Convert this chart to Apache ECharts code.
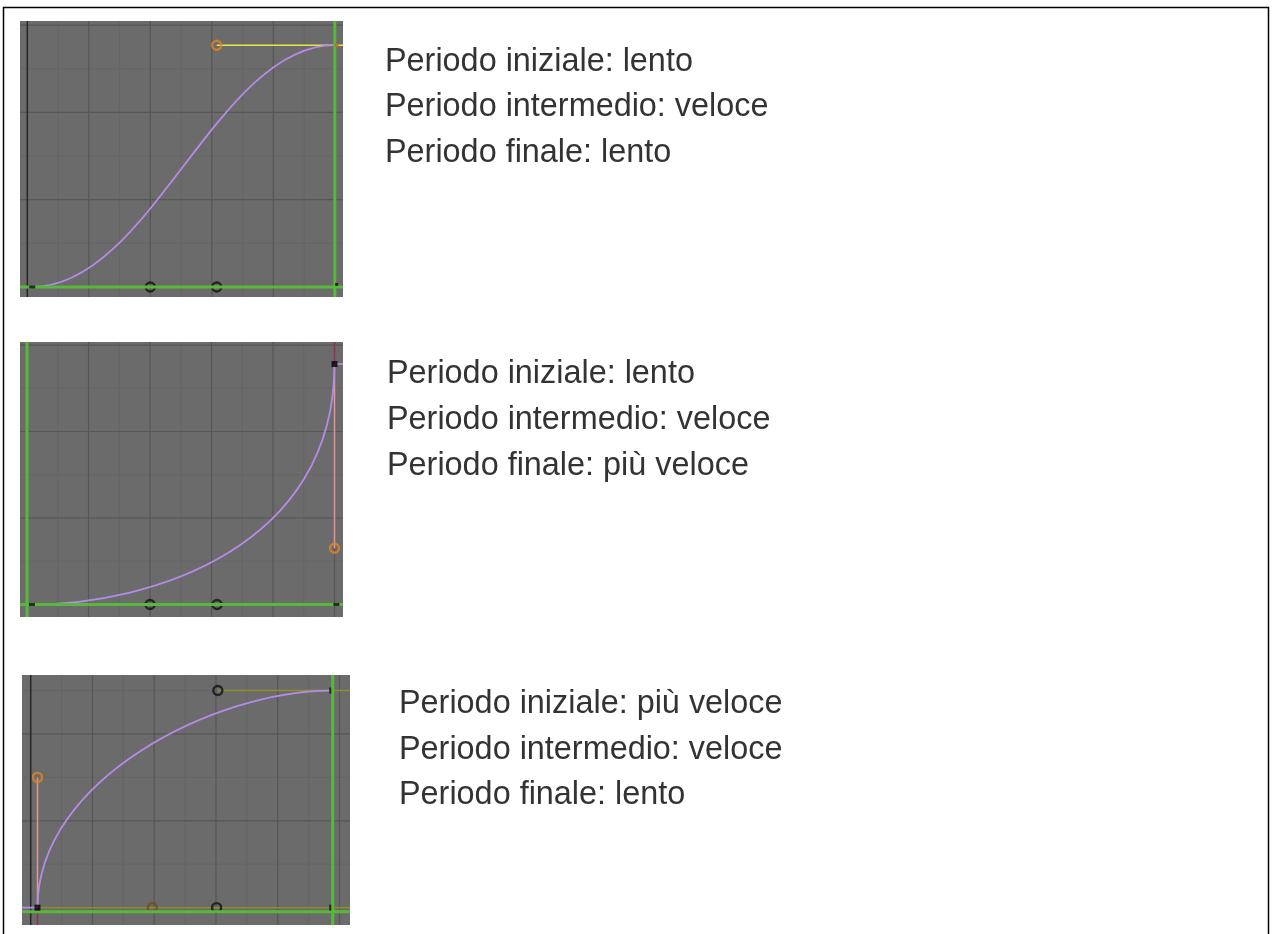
<!DOCTYPE html>
<html><head><meta charset="utf-8">
<script src="https://cdn.jsdelivr.net/npm/echarts/dist/echarts.min.js"></script>
<style>html,body{margin:0;padding:0;background:#fff}#c{width:1276px;height:934px}</style>
</head><body><div id="c"></div>
<script>
// ---------- DATA (frames on x, value on y) ----------
// Panel 1: ease in / ease out
const p1Keys = [[0.8, 0], [50, 2.77]];
const p1CurveHandles = [[20, 0], [30.8, 2.77]];
const p1BottomRings = [[20, 0], [30.8, 0]];
const p1SelectedHandle = [[30.8, 2.77]];
const p1YellowHandleLine = [[30.8, 2.77], [51.33, 2.77]];
const p1Dashes = [[0.8, 0]];
const p1Dots = [[50.3, 0.03]];
const p1OrangeKey = [[50.3, 2.77]];
const p1CurrentFrame = [50];
const p1Cursor = [0];
const p1FrameZero = [0];

// Panel 2: ease in
const p2Keys = [[0.8, 0], [50, 2.78]];
const p2CurveHandles = [[20, 0], [50, 0.65]];
const p2BottomRings = [[20, 0], [30.9, 0]];
const p2SelectedHandle = [[50, 0.65]];
const p2PinkHandleLine = [[50, 2.78], [50, 0.65]];
const p2DarkHandleLine = [[50, 2.78], [50, 3.035]];
const p2CurveExtension = [[50, 2.78], [51.38, 2.78]];
const p2KeySquares = [[50, 2.78]];
const p2Dashes = [[0.8, 0], [50.3, 0]];
const p2CurrentFrame = [0];
const p2Cursor = [0];

// Panel 3: ease out
const p3Keys = [[1.1, 0], [48.5, 2.5]];
const p3CurveHandles = [[1.1, 1.5], [30.3, 2.5]];
const p3SelectedHandle = [[1.1, 1.5]];
const p3PinkHandleLine = [[1.1, 0], [1.1, 1.5]];
const p3DarkHandleLine = [[1.1, 0], [1.1, -0.2]];
const p3OliveTop = [[30.3, 2.5], [51.7, 2.5]];
const p3OliveBottom = [[1.1, 0], [51.7, 0]];
const p3CurveExtension = [[-1.41, 0], [1.1, 0]];
const p3BlackRings = [[30.3, 2.5], [30.1, 0]];
const p3BrownRings = [[19.7, 0]];
const p3KeySquares = [[1.1, 0]];
const p3Ticks = [[48.5, 2.5], [48.5, 0]];
const p3CurrentFrame = [48.9];
const p3Cursor = [-0.046];
const p3FrameZero = [0];

// grid tick values (all panels)
const majorFrames = [10, 20, 30, 40, 50];
const minorFrames = [5, 15, 25, 35, 45];
const majorValues = [0, 1, 2, 3];
const minorValues = [0.5, 1.5, 2.5];

const text1 = ['Periodo iniziale: lento', 'Periodo intermedio: veloce', 'Periodo finale: lento'];
const text2 = ['Periodo iniziale: lento', 'Periodo intermedio: veloce', 'Periodo finale: più veloce'];
const text3 = ['Periodo iniziale: più veloce', 'Periodo intermedio: veloce', 'Periodo finale: lento'];

// ---------- STYLE ----------
const BG = '#6b6b6b', MAJOR = '#565656', MINOR = '#656565';
const GREEN = '#58b83a', PURPLE = '#b48ce8', ORANGE = '#e3831f';
const YELLOW = '#e6e64a', OLIVE = '#8e8e2c', PINK = '#e89494', DARKRED = '#8e3557';

function vlines(g, vals, color, width, z) {
  return {type: 'custom', xAxisIndex: g, yAxisIndex: g, z, silent: true, animation: false,
    data: vals.map(v => [v, 0]), encode: {x: 0, y: 1},
    renderItem(params, api) {
      const cs = params.coordSys;
      const x = api.coord([api.value(0), 0])[0];
      if (x < cs.x || x > cs.x + cs.width) return null;
      return {type: 'line', shape: {x1: x, y1: cs.y, x2: x, y2: cs.y + cs.height},
        style: {stroke: color, lineWidth: width}};
    }};
}
function hlines(g, vals, color, width, z) {
  return {type: 'custom', xAxisIndex: g, yAxisIndex: g, z, silent: true, animation: false,
    data: vals.map(v => [25, v]), encode: {x: 0, y: 1},
    renderItem(params, api) {
      const cs = params.coordSys;
      const y = api.coord([25, api.value(1)])[1];
      if (y < cs.y || y > cs.y + cs.height) return null;
      return {type: 'line', shape: {x1: cs.x, y1: y, x2: cs.x + cs.width, y2: y},
        style: {stroke: color, lineWidth: width}};
    }};
}
function bezier(g, keys, handles, color, z) {
  return {type: 'custom', xAxisIndex: g, yAxisIndex: g, z, silent: true, animation: false,
    data: [[keys[0][0], keys[0][1], handles[0][0], handles[0][1], handles[1][0], handles[1][1], keys[1][0], keys[1][1]]],
    encode: {x: [0, 2, 4, 6], y: [1, 3, 5, 7]},
    renderItem(params, api) {
      const p = [0, 2, 4, 6].map(i => api.coord([api.value(i), api.value(i + 1)]));
      return {type: 'bezierCurve',
        shape: {x1: p[0][0], y1: p[0][1], cpx1: p[1][0], cpy1: p[1][1], cpx2: p[2][0], cpy2: p[2][1], x2: p[3][0], y2: p[3][1]},
        style: {stroke: color, lineWidth: 1.8, fill: null}};
    }};
}
function seg(g, pts, color, width, z) {
  return {type: 'line', xAxisIndex: g, yAxisIndex: g, data: pts, symbol: 'none', silent: true,
    lineStyle: {color, width}, z, animation: false};
}
function marks(g, pts, symbol, size, itemStyle, z) {
  return {type: 'scatter', xAxisIndex: g, yAxisIndex: g, data: pts, symbol, symbolSize: size,
    itemStyle, z, silent: true, animation: false};
}
const ring = c => ({color: 'rgba(0,0,0,0)', borderColor: c, borderWidth: 2.4});
function gridSeries(g) {
  return [
    vlines(g, minorFrames, MINOR, 1, 1), hlines(g, minorValues, MINOR, 1, 1),
    vlines(g, majorFrames, MAJOR, 1.2, 1), hlines(g, majorValues, MAJOR, 1.2, 1)
  ];
}

const series = [
  ...gridSeries(0), ...gridSeries(1), ...gridSeries(2),
  // panel 1
  vlines(0, p1FrameZero, '#262626', 1.5, 2),
  seg(0, p1YellowHandleLine, YELLOW, 1.5, 3),
  bezier(0, p1Keys, p1CurveHandles, PURPLE, 4),
  marks(0, p1BottomRings, 'circle', 9, ring('#111'), 5),
  vlines(0, p1CurrentFrame, GREEN, 3, 6), hlines(0, p1Cursor, GREEN, 3, 6),
  marks(0, p1Dashes, 'rect', [6, 3], {color: '#111'}, 7),
  marks(0, p1Dots, 'rect', [3, 3], {color: '#111'}, 7),
  marks(0, p1OrangeKey, 'rect', [4, 3], {color: '#e0601c'}, 7),
  marks(0, p1SelectedHandle, 'circle', 9, ring(ORANGE), 7),
  // panel 2
  seg(1, p2DarkHandleLine, DARKRED, 1.5, 3),
  seg(1, p2PinkHandleLine, PINK, 1.5, 3),
  seg(1, p2CurveExtension, PURPLE, 1.8, 4),
  bezier(1, p2Keys, p2CurveHandles, PURPLE, 4),
  marks(1, p2BottomRings, 'circle', 9, ring('#111'), 5),
  vlines(1, p2CurrentFrame, GREEN, 3, 6), hlines(1, p2Cursor, GREEN, 3, 6),
  marks(1, p2Dashes, 'rect', [6, 3], {color: '#111'}, 7),
  marks(1, p2KeySquares, 'rect', 6, {color: '#000'}, 7),
  marks(1, p2SelectedHandle, 'circle', 9, ring(ORANGE), 7),
  // panel 3
  vlines(2, p3FrameZero, '#262626', 1.5, 2),
  seg(2, p3OliveTop, OLIVE, 1.5, 3),
  seg(2, p3OliveBottom, OLIVE, 1.5, 3),
  seg(2, p3DarkHandleLine, DARKRED, 1.5, 3),
  seg(2, p3PinkHandleLine, PINK, 1.5, 3),
  seg(2, p3CurveExtension, PURPLE, 1.8, 4),
  bezier(2, p3Keys, p3CurveHandles, PURPLE, 4),
  marks(2, p3BlackRings, 'circle', 9, ring('#111'), 5),
  marks(2, p3BrownRings, 'circle', 9, ring('#7a4a1e'), 5),
  vlines(2, p3CurrentFrame, GREEN, 3, 6), hlines(2, p3Cursor, GREEN, 3, 6),
  marks(2, p3Ticks, 'rect', [2, 6], {color: '#111'}, 7),
  marks(2, p3KeySquares, 'rect', 6, {color: '#000'}, 7),
  marks(2, p3SelectedHandle, 'circle', 9, ring(ORANGE), 7)
];

const FONT = '32.4px "Liberation Sans", Arial, sans-serif';
function textBlock(lines, x, ys) {
  return lines.map((t, i) => ({type: 'text', x, y: ys[i], silent: true,
    style: {text: t, font: FONT, fill: '#333333', verticalAlign: 'middle', align: 'left'}}));
}

const chart = echarts.init(document.getElementById('c'), null, {renderer: 'canvas'});
chart.setOption({
  animation: false,
  backgroundColor: '#ffffff',
  grid: [
    {left: 20, top: 21, width: 323, height: 276, show: true, backgroundColor: BG, borderWidth: 0},
    {left: 20, top: 342, width: 323, height: 275, show: true, backgroundColor: BG, borderWidth: 0},
    {left: 22, top: 675, width: 328, height: 250, show: true, backgroundColor: BG, borderWidth: 0}
  ],
  xAxis: [
    {type: 'value', gridIndex: 0, min: -1.19, max: 51.33, show: false},
    {type: 'value', gridIndex: 1, min: -1.14, max: 51.38, show: false},
    {type: 'value', gridIndex: 2, min: -1.41, max: 51.7, show: false}
  ],
  yAxis: [
    {type: 'value', gridIndex: 0, min: -0.115, max: 3.047, show: false},
    {type: 'value', gridIndex: 1, min: -0.145, max: 3.035, show: false},
    {type: 'value', gridIndex: 2, min: -0.2, max: 2.679, show: false}
  ],
  series,
  graphic: [
    {type: 'polyline', silent: true, shape: {points: [[3.5, 940], [3.5, 7.5], [1268.5, 7.5], [1268.5, 940]]},
      style: {stroke: '#000', lineWidth: 1.5, fill: null}},
    ...textBlock(text1, 385, [62, 107.5, 153]),
    ...textBlock(text2, 387, [374, 420, 466]),
    ...textBlock(text3, 399, [704, 750, 795])
  ]
});
</script></body></html>
